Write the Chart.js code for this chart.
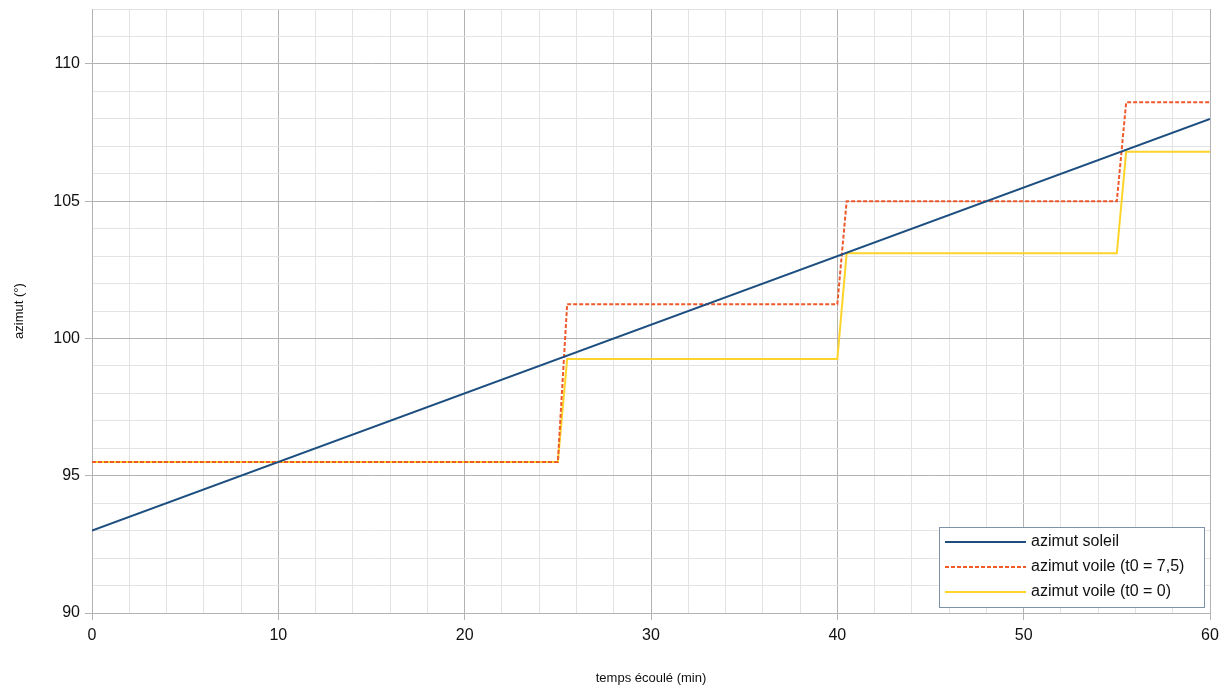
<!DOCTYPE html>
<html>
<head>
<meta charset="utf-8">
<script src="https://cdn.jsdelivr.net/npm/chart.js@4/dist/chart.umd.min.js"></script>
<style>
  html, body { margin: 0; padding: 0; background: #fff; }
  #wrap { width: 1230px; height: 688px; }
</style>
</head>
<body>
<div id="wrap"><canvas id="graphe" width="1230" height="688"></canvas></div>
<script>
// temps (min) et azimuts (°)
const tempsSoleil = [0, 60];
const azimutSoleil = [93, 108];

const tempsVoile = [0, 25, 25.5, 40, 40.5, 55, 55.5, 60];
const azimutVoile75 = [95.5, 95.5, 101.25, 101.25, 105, 105, 108.6, 108.6];
const azimutVoile0 = [95.5, 95.5, 99.25, 99.25, 103.1, 103.1, 106.8, 106.8];

const ticksX = [0, 10, 20, 30, 40, 50, 60];
const ticksY = [90, 95, 100, 105, 110];

const couleurs = {
    soleil: "#1d4e80",
    voile75: "#ee5a2c",
    voile0: "#ffd42a",
};

const gMajeur = "#b3b3b3";
const gMineur = "#e3e3e3";

function points(xs, ys) {
    return xs.map((x, i) => ({ x: x, y: ys[i] }));
}

// légende encadrée dans le coin bas droit
const legendeCadre = {
    id: "legendeCadre",
    afterDraw(chart) {
        const ctx = chart.ctx;
        const x0 = 939, y0 = 527, w = 265, h = 80;
        ctx.save();
        ctx.fillStyle = "#fff";
        ctx.fillRect(x0, y0, w, h);
        ctx.strokeStyle = "#7f93a8";
        ctx.lineWidth = 1;
        ctx.strokeRect(x0 + 0.5, y0 + 0.5, w, h);
        ctx.font = "16px 'Liberation Sans', Arial, sans-serif";
        ctx.textBaseline = "middle";
        chart.data.datasets.forEach((ds, i) => {
            const y = y0 + 15 + i * 25;
            ctx.strokeStyle = ds.borderColor;
            ctx.lineWidth = ds.borderWidth;
            ctx.setLineDash(ds.borderDash || []);
            ctx.beginPath();
            ctx.moveTo(x0 + 6, y);
            ctx.lineTo(x0 + 87, y);
            ctx.stroke();
            ctx.setLineDash([]);
            ctx.fillStyle = "#111";
            ctx.fillText(ds.label, x0 + 92, y);
        });
        ctx.restore();
    }
};

const ctx = document.getElementById("graphe").getContext("2d");

new Chart(ctx, {
    type: "line",
    data: {
        datasets: [
            {
                label: "azimut soleil",
                data: points(tempsSoleil, azimutSoleil),
                borderColor: couleurs.soleil,
                borderWidth: 2,
            },
            {
                label: "azimut voile (t0 = 7,5)",
                data: points(tempsVoile, azimutVoile75),
                borderColor: couleurs.voile75,
                borderWidth: 2,
                borderDash: [4, 2],
            },
            {
                label: "azimut voile (t0 = 0)",
                data: points(tempsVoile, azimutVoile0),
                borderColor: couleurs.voile0,
                borderWidth: 2,
            },
        ],
    },
    options: {
        responsive: false,
        animation: false,
        layout: { padding: { top: 9, right: 20, left: 0, bottom: 0 } },
        elements: {
            point: { radius: 0, hoverRadius: 0 },
            line: { tension: 0, fill: false },
        },
        plugins: {
            legend: { display: false },
            tooltip: { enabled: false },
        },
        scales: {
            x: {
                type: "linear",
                min: 0,
                max: 60,
                afterFit: s => { s.height = 75; },
                border: { color: gMajeur },
                grid: {
                    color: c => ticksX.includes(c.tick.value) ? gMajeur : gMineur,
                    tickColor: c => ticksX.includes(c.tick.value) ? gMajeur : "rgba(0,0,0,0)",
                    tickLength: 7,
                },
                ticks: {
                    stepSize: 2,
                    autoSkip: false,
                    maxRotation: 0,
                    padding: 6,
                    color: "#111",
                    font: { family: "'Liberation Sans', Arial, sans-serif", size: 16 },
                    callback: v => ticksX.includes(v) ? String(v) : "",
                },
                title: {
                    display: true,
                    text: "temps écoulé (min)",
                    color: "#111",
                    font: { family: "'Liberation Sans', Arial, sans-serif", size: 13 },
                    padding: { top: 0, bottom: 2 },
                },
            },
            y: {
                type: "linear",
                min: 90,
                max: 112,
                afterFit: s => {
                    s.width = 92;
                    s.paddingTop = 0;
                    s.paddingBottom = 0;
                },
                border: { color: gMajeur },
                grid: {
                    color: c => ticksY.includes(c.tick.value) ? gMajeur : gMineur,
                    tickColor: c => ticksY.includes(c.tick.value) ? gMajeur : "rgba(0,0,0,0)",
                    tickLength: 7,
                },
                ticks: {
                    stepSize: 1,
                    autoSkip: false,
                    padding: 5,
                    color: "#111",
                    font: { family: "'Liberation Sans', Arial, sans-serif", size: 16 },
                    callback: v => ticksY.includes(v) ? String(v) : "",
                },
                title: {
                    display: true,
                    text: "azimut (°)",
                    color: "#111",
                    font: { family: "'Liberation Sans', Arial, sans-serif", size: 13 },
                    padding: { top: 12, bottom: 0 },
                },
            },
        },
    },
    plugins: [legendeCadre],
});
</script>
</body>
</html>
